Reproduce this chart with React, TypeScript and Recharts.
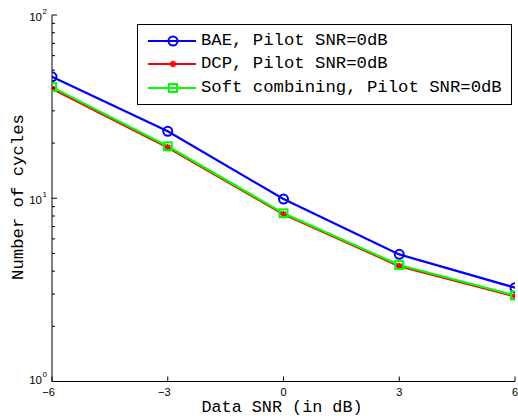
import { LineChart, Line, XAxis, YAxis, Legend, Label } from 'recharts'

// Data SNR (dB) on the x axis
const snr = [-6, -3, 0, 3, 6]

// number of cycles for each scheme
const bae = [46, 23.2, 9.9, 4.94, 3.25]
const dcp = [39.6, 18.9, 8.18, 4.26, 2.91]
const soft = [40.4, 19.2, 8.28, 4.32, 2.95]

const xTicks = [-6, -3, 0, 3, 6]
const yMajor = [1, 10, 100]
const yTicks = [1, 2, 3, 4, 5, 6, 7, 8, 9, 10, 20, 30, 40, 50, 60, 70, 80, 90, 100]

const seriesNames = ['BAE, Pilot SNR=0dB', 'DCP, Pilot SNR=0dB', 'Soft combining, Pilot SNR=0dB']

const rows = snr.map((x, i) => ({ x, bae: bae[i], dcp: dcp[i], soft: soft[i] }))

const BLUE = '#0000ff'
const RED = '#ff0000'
const GREEN = '#00ff00'
const tickFont = '"Liberation Sans", Arial, sans-serif'
const monoFont = '"Liberation Mono", "Courier New", monospace'

function Marker({ kind, cx, cy, color }: { kind: string; cx: number; cy: number; color: string }) {
  if (kind === 'circle') {
    return <circle cx={cx} cy={cy} r={4.5} fill="none" stroke={color} strokeWidth={2} />
  }
  if (kind === 'square') {
    return <rect x={cx - 4} y={cy - 4} width={8} height={8} fill="none" stroke={color} strokeWidth={2} />
  }
  // asterisk
  const r = 3.5
  const d = r * 0.707
  return (
    <g stroke={color} strokeWidth={1.6}>
      <line x1={cx - r} y1={cy} x2={cx + r} y2={cy} />
      <line x1={cx} y1={cy - r} x2={cx} y2={cy + r} />
      <line x1={cx - d} y1={cy - d} x2={cx + d} y2={cy + d} />
      <line x1={cx - d} y1={cy + d} x2={cx + d} y2={cy - d} />
    </g>
  )
}

const dotFor = (kind: string, color: string) => (p: any) => (
  <Marker key={`${kind}-${p.index}`} kind={kind} cx={p.cx} cy={p.cy} color={color} />
)

function LeftTick(props: any) {
  const { x, y, payload } = props
  const v = payload.value
  const major = yMajor.includes(v)
  const exp = Math.round(Math.log10(v))
  const low = v === 1
  return (
    <g>
      <line x1={x} y1={y} x2={x + (major ? 5 : 3)} y2={y} stroke="#000" />
      {major && (
        <>
          <text x={x - 10} y={y + (low ? 2 : 6)} textAnchor="end" fontSize={11.5} fontFamily={tickFont} fill="#000">
            10
          </text>
          <text x={x - 9.5} y={y + (low ? -5 : -1)} fontSize={8} fontFamily={tickFont} fill="#000">
            {exp}
          </text>
        </>
      )}
    </g>
  )
}

function RightTick(props: any) {
  const { x, y, payload } = props
  const major = yMajor.includes(payload.value)
  return <line x1={x} y1={y} x2={x - (major ? 5 : 3)} y2={y} stroke="#000" />
}

function BottomTick(props: any) {
  const { x, y, payload } = props
  const v = payload.value
  const label = v < 0 ? `\u2212${Math.abs(v)}` : `${v}`
  return (
    <g>
      <line x1={x} y1={y} x2={x} y2={y - 5} stroke="#000" />
      <text x={v < 0 ? x - 3.5 : x} y={y + 14.5} textAnchor="middle" fontSize={11} fontFamily={tickFont} fill="#000">
        {label}
      </text>
    </g>
  )
}

function TopTick(props: any) {
  const { x, y } = props
  return <line x1={x} y1={y} x2={x} y2={y + 5} stroke="#000" />
}

function LegendBox() {
  const kinds = [
    { kind: 'circle', color: BLUE },
    { kind: 'asterisk', color: RED },
    { kind: 'square', color: GREEN },
  ]
  return (
    <div
      style={{
        width: 373,
        height: 75,
        border: '1px solid #000',
        background: '#fff',
        paddingTop: 4,
        boxSizing: 'content-box',
      }}
    >
      {seriesNames.map((name, i) => (
        <div key={name} style={{ display: 'flex', alignItems: 'center', height: 23.5 }}>
          <svg width={63} height={20} style={{ flex: 'none' }}>
            <line x1={10} y1={10} x2={58} y2={10} stroke={kinds[i].color} strokeWidth={2.2} />
            <Marker kind={kinds[i].kind} cx={35} cy={10} color={kinds[i].color} />
          </svg>
          <span style={{ fontFamily: monoFont, fontSize: 17.3, color: '#000', whiteSpace: 'nowrap', lineHeight: '20px' }}>
            {name}
          </span>
        </div>
      ))}
    </div>
  )
}

export default function App() {
  return (
    <div style={{ position: 'absolute', left: 0, top: 0, width: 518, height: 416, background: '#fff' }}>
      <LineChart width={518} height={416} data={rows} margin={{ top: 15, right: 3, bottom: 14.5, left: 8 }}>
        <XAxis
          xAxisId="x"
          dataKey="x"
          type="number"
          domain={[-6, 6]}
          ticks={xTicks}
          interval={0}
          height={20}
          tickSize={0}
          tickMargin={0}
          tickLine={false}
          axisLine={{ stroke: '#000' }}
          tick={<BottomTick />}
          allowDataOverflow
        >
          <Label
            content={() => (
              <text x={282} y={411.5} textAnchor="middle" fontSize={16.8} fontFamily={monoFont} fill="#000">
                Data SNR (in dB)
              </text>
            )}
          />
        </XAxis>
        <XAxis
          xAxisId="top"
          orientation="top"
          type="number"
          domain={[-6, 6]}
          ticks={xTicks}
          interval={0}
          height={0}
          tickSize={0}
          tickMargin={0}
          tickLine={false}
          axisLine={{ stroke: '#000' }}
          tick={<TopTick />}
          allowDataOverflow
        />
        <YAxis
          yAxisId="y"
          type="number"
          scale="log"
          domain={[1, 100]}
          ticks={yTicks}
          interval={0}
          width={44}
          tickSize={0}
          tickMargin={0}
          tickLine={false}
          axisLine={{ stroke: '#000' }}
          tick={<LeftTick />}
          allowDataOverflow
        >
          <Label
            content={() => (
              <text
                x={23}
                y={197}
                transform="rotate(-90 23 197)"
                textAnchor="middle"
                fontSize={17.3}
                fontFamily={monoFont}
                fill="#000"
              >
                Number of cycles
              </text>
            )}
          />
        </YAxis>
        <YAxis
          yAxisId="r"
          orientation="right"
          type="number"
          scale="log"
          domain={[1, 100]}
          ticks={yTicks}
          interval={0}
          width={0}
          tickSize={0}
          tickMargin={0}
          tickLine={false}
          axisLine={{ stroke: '#000' }}
          tick={<RightTick />}
          allowDataOverflow
        />
        <Legend
          layout="horizontal"
          verticalAlign="middle"
          align="center"
          content={() => <LegendBox />}
          wrapperStyle={{ position: 'absolute', left: 137, top: 24, width: 375, height: 79 }}
        />
        <Line
          xAxisId="x"
          yAxisId="y"
          dataKey="bae"
          name={seriesNames[0]}
          stroke={BLUE}
          strokeWidth={2.2}
          dot={dotFor('circle', BLUE)}
          isAnimationActive={false}
        />
        <Line
          xAxisId="x"
          yAxisId="y"
          dataKey="dcp"
          name={seriesNames[1]}
          stroke={RED}
          strokeWidth={2.2}
          dot={dotFor('asterisk', RED)}
          isAnimationActive={false}
        />
        <Line
          xAxisId="x"
          yAxisId="y"
          dataKey="soft"
          name={seriesNames[2]}
          stroke={GREEN}
          strokeWidth={2.2}
          dot={dotFor('square', GREEN)}
          isAnimationActive={false}
        />
      </LineChart>
    </div>
  )
}
